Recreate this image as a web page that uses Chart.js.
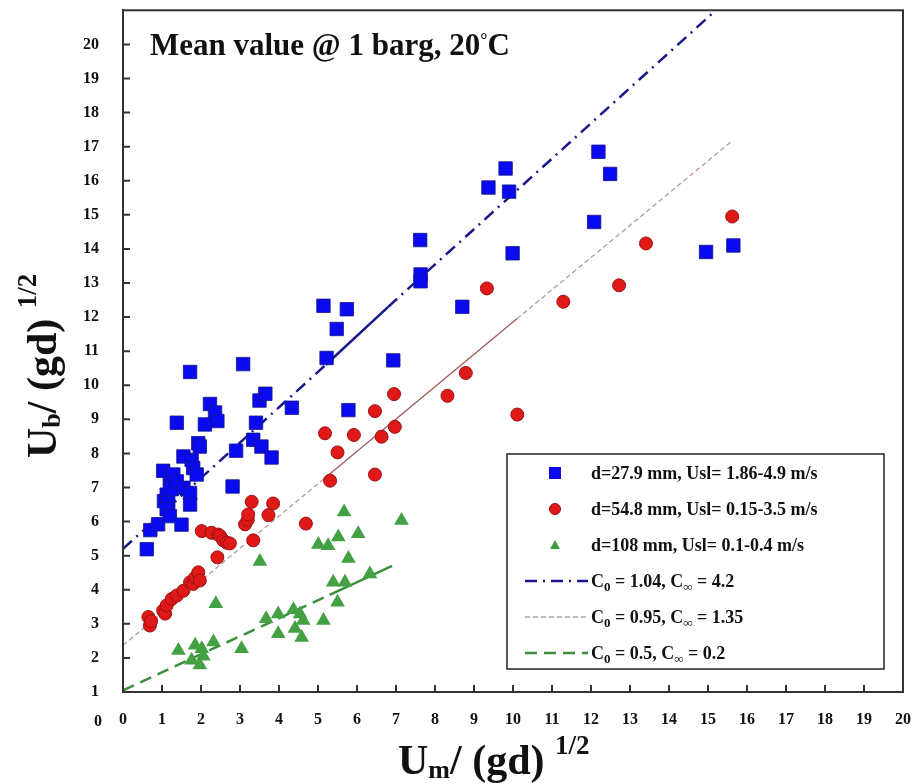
<!DOCTYPE html>
<html>
<head>
<meta charset="utf-8">
<script src="https://cdn.jsdelivr.net/npm/chart.js@4.4.1/dist/chart.umd.min.js"></script>
<style>
  body { margin: 0; background: #fff; }
</style>
</head>
<body>
<canvas id="myChart" width="917" height="784"></canvas>
<script>
// d=27.9 mm
const blueX = [0.61, 0.7, 0.9, 1.03, 1.05, 1.12, 1.16, 1.12, 1.2, 1.2, 1.25, 1.29, 1.38, 1.55, 1.72, 1.72, 1.5,
  1.38, 1.55, 1.76, 1.8, 1.89, 1.72, 1.93, 1.97, 2.1, 2.23, 2.36, 2.42, 2.9, 2.81, 3.08, 3.41, 3.34, 3.55,
  3.81, 3.5, 3.65, 4.33, 5.14, 5.74, 5.48, 5.22, 5.78, 6.93, 7.62, 7.63, 7.63, 8.7, 9.37, 9.81, 9.9, 9.99,
  12.19, 12.49, 12.08, 14.95, 15.65];
const blueY = [5.19, 5.75, 5.92, 7.49, 6.6, 6.79, 6.55, 6.36, 6.16, 7.08, 6.95, 7.38, 7.18, 6.99, 6.84, 6.5, 5.91,
  8.9, 7.91, 7.81, 7.57, 7.38, 10.39, 8.3, 8.2, 8.85, 9.45, 9.2, 8.95, 8.08, 7.03, 10.62, 8.9, 8.4, 8.2,
  7.88, 9.55, 9.75, 9.34, 12.33, 12.23, 11.65, 10.8, 9.27, 10.73, 14.26, 13.25, 13.05, 12.3, 15.8, 16.36, 15.68, 13.87,
  16.85, 16.2, 14.79, 13.91, 14.1];

// d=54.8 mm
const redX = [0.65, 0.69, 0.72, 1.03, 1.08, 1.12, 1.25, 1.38, 1.55, 1.72, 1.8, 1.85, 1.93, 1.97, 2.02, 2.27, 2.44,
  2.49, 2.57, 2.66, 2.74, 2.42, 3.13, 3.2, 3.21, 3.3, 3.34, 3.73, 3.85, 4.69, 5.18, 5.31, 5.5, 5.92, 6.46,
  6.46, 6.63, 6.95, 6.97, 8.32, 8.79, 9.33, 10.11, 11.29, 12.72, 13.41, 15.62];
const redY = [3.2, 2.95, 3.08, 3.39, 3.3, 3.54, 3.73, 3.83, 3.97, 4.22, 4.17, 4.36, 4.51, 4.27, 5.72, 5.67, 5.62,
  5.58, 5.45, 5.38, 5.36, 4.95, 5.92, 6.05, 6.21, 6.58, 5.45, 6.19, 6.53, 5.94, 8.59, 7.2, 8.03, 8.54, 9.24,
  7.38, 8.49, 9.74, 8.78, 9.69, 10.36, 12.84, 9.14, 12.45, 12.93, 14.16, 14.95];

// d=108 mm
const greenX = [1.42, 1.76, 1.85, 1.97, 2.02, 2.06, 2.32, 2.38, 3.04, 3.51, 3.67, 3.98, 3.98, 4.37, 4.41, 4.54,
  4.62, 4.58, 5.14, 5.01, 5.26, 5.5, 5.39, 5.69, 5.52, 5.67, 5.78, 6.03, 6.33, 7.14];
const greenY = [2.22, 1.93, 2.37, 1.79, 2.27, 2.05, 2.47, 3.59, 2.27, 4.83, 3.15, 3.29, 2.71, 3.41, 2.86, 3.29,
  3.1, 2.6, 3.1, 5.33, 5.29, 3.63, 4.22, 4.22, 5.55, 6.28, 4.92, 5.64, 4.46, 6.03];

// fitted lines, end points and style breaks
const blueLineX = [0, 5.2, 6.8, 15.2];
const blueLineY = [5.2, 10.6, 12.3, 21];
const redLineX = [0, 5.2, 10.1, 15.6];
const redLineY = [2.37, 7.3, 11.95, 17.15];
const greenLineX = [0, 5.3, 6.9];
const greenLineY = [1.05, 3.85, 4.7];

const xTicks = [0, 1, 2, 3, 4, 5, 6, 7, 8, 9, 10, 11, 12, 13, 14, 15, 16, 17, 18, 19, 20];
const yTicks = [1, 2, 3, 4, 5, 6, 7, 8, 9, 10, 11, 12, 13, 14, 15, 16, 17, 18, 19, 20];

const legendLabels = [
  'd=27.9 mm, Usl= 1.86-4.9 m/s',
  'd=54.8 mm, Usl= 0.15-3.5 m/s',
  'd=108 mm, Usl= 0.1-0.4 m/s'
];
const fitLabels = [['1.04', '4.2'], ['0.95', '1.35'], ['0.5', '0.2']];

function pts(xs, ys) {
  return xs.map((x, i) => ({ x: x, y: ys[i] }));
}

const SERIF = '"Liberation Serif", "DejaVu Serif", serif';

function drawParts(ctx, parts, x, y) {
  parts.forEach(p => {
    ctx.font = p.font;
    ctx.fillText(p.t, x, y + (p.dy || 0));
    x += ctx.measureText(p.t).width;
  });
}

function drawMarker(ctx, style, x, y) {
  ctx.save();
  ctx.lineWidth = 1;
  if (style === 'rect') {
    ctx.fillStyle = '#0a0af0';
    ctx.fillRect(x - 6, y - 6, 12, 12);
  } else if (style === 'circle') {
    ctx.fillStyle = '#e01818';
    ctx.strokeStyle = '#8a1010';
    ctx.beginPath();
    ctx.arc(x, y, 5.5, 0, Math.PI * 2);
    ctx.fill();
    ctx.stroke();
  } else {
    ctx.fillStyle = '#3f9b3f';
    ctx.beginPath();
    ctx.moveTo(x, y - 5);
    ctx.lineTo(x + 5, y + 4);
    ctx.lineTo(x - 5, y + 4);
    ctx.closePath();
    ctx.fill();
  }
  ctx.restore();
}

const decor = {
  id: 'decor',
  afterDraw(chart) {
    const ctx = chart.ctx;
    const a = chart.chartArea;
    const xs = chart.scales.x;
    const ys = chart.scales.y;
    ctx.save();

    // frame
    ctx.strokeStyle = '#333';
    ctx.lineWidth = 2;
    ctx.strokeRect(a.left, a.top, a.right - a.left, a.bottom - a.top);

    // inward tick marks
    ctx.beginPath();
    xTicks.forEach(v => {
      const px = xs.getPixelForValue(v);
      ctx.moveTo(px, a.bottom);
      ctx.lineTo(px, a.bottom - 7);
    });
    yTicks.forEach(v => {
      const py = ys.getPixelForValue(v);
      ctx.moveTo(a.left, py);
      ctx.lineTo(a.left + 7, py);
    });
    ctx.stroke();

    ctx.fillStyle = '#111';
    ctx.textBaseline = 'alphabetic';
    ctx.textAlign = 'left';

    // stray "0" of the y axis under the axis
    ctx.font = 'bold 16px ' + SERIF;
    ctx.fillText('0', 94, 726);

    // title inside the plot
    drawParts(ctx, [
      { t: 'Mean value @ 1 barg, 20', font: 'bold 31px ' + SERIF },
      { t: '°', font: 'bold 18px ' + SERIF, dy: -9 },
      { t: 'C', font: 'bold 31px ' + SERIF }
    ], 150, 55);

    // x axis title
    drawParts(ctx, [
      { t: 'U', font: 'bold 42px ' + SERIF },
      { t: 'm', font: 'bold 26px ' + SERIF, dy: 4 },
      { t: '/ (gd) ', font: 'bold 42px ' + SERIF },
      { t: '1/2', font: 'bold 27px ' + SERIF, dy: -20 }
    ], 398, 774);

    // y axis title
    ctx.save();
    ctx.translate(56, 458);
    ctx.rotate(-Math.PI / 2);
    drawParts(ctx, [
      { t: 'U', font: 'bold 42px ' + SERIF },
      { t: 'b', font: 'bold 26px ' + SERIF, dy: 4 },
      { t: '/ (gd) ', font: 'bold 42px ' + SERIF },
      { t: '1/2', font: 'bold 27px ' + SERIF, dy: -20 }
    ], 0, 0);
    ctx.restore();

    // legend box
    const lx = 507, ly = 454, lw = 377, lh = 215;
    ctx.fillStyle = '#fff';
    ctx.fillRect(lx, ly, lw, lh);
    ctx.strokeStyle = '#222';
    ctx.lineWidth = 1.5;
    ctx.strokeRect(lx, ly, lw, lh);

    const rowY = [473, 509, 545, 581, 617, 653];
    const styles = ['rect', 'circle', 'triangle'];
    for (let i = 0; i < 3; i++) {
      drawMarker(ctx, styles[i], 555, rowY[i]);
      ctx.fillStyle = '#111';
      ctx.font = 'bold 18px ' + SERIF;
      ctx.fillText(legendLabels[i], 591, rowY[i] + 6);
    }
    for (let i = 0; i < 3; i++) {
      const ds = chart.data.datasets[3 + i];
      const y = rowY[3 + i];
      ctx.save();
      ctx.strokeStyle = ds.legendColor;
      ctx.lineWidth = ds.borderWidth;
      ctx.setLineDash(ds.borderDash);
      ctx.beginPath();
      ctx.moveTo(525, y);
      ctx.lineTo(588, y);
      ctx.stroke();
      ctx.restore();
      ctx.fillStyle = '#111';
      drawParts(ctx, [
        { t: 'C', font: 'bold 18px ' + SERIF },
        { t: '0', font: 'bold 13px ' + SERIF, dy: 4 },
        { t: ' = ' + fitLabels[i][0] + ', C', font: 'bold 18px ' + SERIF },
        { t: '∞', font: 'bold 13px ' + SERIF, dy: 4 },
        { t: ' = ' + fitLabels[i][1], font: 'bold 18px ' + SERIF }
      ], 591, y + 6);
    }
    ctx.restore();
  }
};

let ctx1 = document.getElementById('myChart').getContext('2d');
let myChart = new Chart(ctx1, {
  type: 'scatter',
  data: {
    datasets: [
      {
        label: legendLabels[0],
        data: pts(blueX, blueY),
        pointStyle: 'rect',
        pointRadius: 9.5,
        backgroundColor: '#0a0af0',
        borderColor: '#14148a',
        borderWidth: 0.8
      },
      {
        label: legendLabels[1],
        data: pts(redX, redY),
        pointStyle: 'circle',
        pointRadius: 6.5,
        backgroundColor: '#e01818',
        borderColor: '#9a1212',
        borderWidth: 1
      },
      {
        label: legendLabels[2],
        data: pts(greenX, greenY),
        pointStyle: 'triangle',
        pointRadius: 8.5,
        backgroundColor: '#43a043',
        borderColor: '#43a043',
        borderWidth: 0
      },
      {
        label: 'C0 = 1.04, C∞ = 4.2',
        data: pts(blueLineX, blueLineY),
        showLine: true,
        pointRadius: 0,
        borderColor: '#18188a',
        legendColor: '#18188a',
        borderWidth: 2.5,
        borderDash: [12, 6, 2, 6],
        segment: { borderDash: ctx => (ctx.p0DataIndex === 1 ? [] : undefined) }
      },
      {
        label: 'C0 = 0.95, C∞ = 1.35',
        data: pts(redLineX, redLineY),
        showLine: true,
        pointRadius: 0,
        borderColor: '#b49c9c',
        legendColor: '#a8a8a8',
        borderWidth: 1.3,
        borderDash: [5, 3],
        segment: {
          borderDash: ctx => (ctx.p0DataIndex === 1 ? [] : undefined),
          borderColor: ctx => (ctx.p0DataIndex === 1 ? '#a05a5a' : undefined)
        }
      },
      {
        label: 'C0 = 0.5, C∞ = 0.2',
        data: pts(greenLineX, greenLineY),
        showLine: true,
        pointRadius: 0,
        borderColor: '#3e8e3e',
        legendColor: '#3e8e3e',
        borderWidth: 2.5,
        borderDash: [12, 7],
        segment: { borderDash: ctx => (ctx.p0DataIndex === 1 ? [] : undefined) }
      }
    ]
  },
  options: {
    responsive: false,
    animation: false,
    layout: { padding: { top: -5, right: 14, left: 0, bottom: 0 } },
    plugins: {
      legend: { display: false },
      tooltip: { enabled: false }
    },
    scales: {
      x: {
        type: 'linear',
        min: 0,
        max: 20,
        afterFit: s => { s.height = 92; s.paddingLeft = 0; s.paddingRight = 0; },
        grid: { display: false, drawTicks: false },
        border: { display: true, color: '#333', width: 2 },
        ticks: {
          stepSize: 1,
          autoSkip: false,
          maxRotation: 0,
          padding: 18,
          color: '#111',
          font: { family: SERIF, size: 16, weight: 'bold' }
        }
      },
      y: {
        type: 'linear',
        min: 1,
        max: 21,
        afterFit: s => { s.width = 123; s.paddingTop = 0; s.paddingBottom = 0; },
        grid: { display: false, drawTicks: false },
        border: { display: true, color: '#333', width: 2 },
        ticks: {
          stepSize: 1,
          autoSkip: false,
          padding: 24,
          color: '#111',
          font: { family: SERIF, size: 16, weight: 'bold' },
          callback: v => (v > 20 ? '' : v)
        }
      }
    }
  },
  plugins: [decor]
});
</script>
</body>
</html>
